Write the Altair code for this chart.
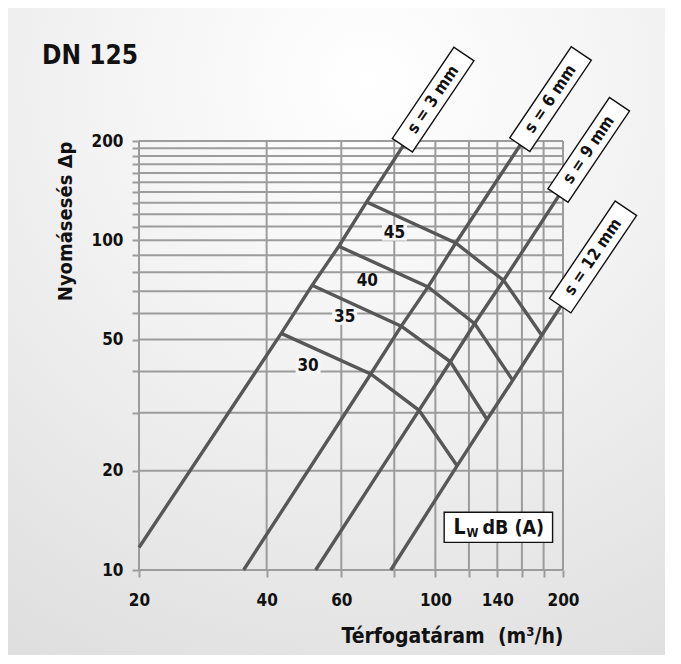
import altair as alt
import pandas as pd

# ---------------- data ----------------
x_grid = [20, 40, 60, 80, 100, 120, 140, 160, 180, 200]
y_grid = [10, 20, 30, 40, 50, 60, 70, 80, 90, 100, 110, 120, 130, 140,
          150, 160, 170, 180, 190, 200]
x_labels = [20, 40, 60, 100, 140, 200]
y_labels = [10, 20, 50, 100, 200]

levels = ["30", "35", "40", "45"]
# vertices of the noise curves (on s = 3, 6, 9, 12 mm)
q_30 = [43.3, 70.4, 91.5, 112.5]
dp_30 = [52.2, 39.3, 30.5, 20.7]
q_35 = [51.2, 83.1, 108.5, 132.4]
dp_35 = [73.0, 54.9, 42.8, 28.6]
q_40 = [59.2, 96.1, 123.8, 152.2]
dp_40 = [95.9, 72.2, 55.9, 37.6]
q_45 = [68.8, 111.7, 144.9, 178.2]
dp_45 = [130.6, 98.1, 75.6, 51.5]

level_q = [50.1, 61.1, 69.1, 80.1]
level_dp = [41.6, 58.5, 75.2, 105.3]

s_names = ["s = 3 mm", "s = 6 mm", "s = 9 mm", "s = 12 mm"]
s_q_start = [20, 35.3, 52.2, 78.5]
s_dp_start = [11.7, 10, 10, 10]
s_q_end = [98.8, 186.9, 230, 235.4]     # label box centre
s_dp_end = [267, 268, 188, 89]

lw_q = [104.9, 189.0]
lw_dp = [12.13, 14.96]

# ---------------- tables ----------------
curve_q = [q_30, q_35, q_40, q_45]
curve_dp = [dp_30, dp_35, dp_40, dp_45]

curves = pd.DataFrame([
    {"level": lv, "ord": j, "q": curve_q[i][j], "dp": curve_dp[i][j]}
    for i, lv in enumerate(levels) for j in range(4)
])

s_rows = []
for i, name in enumerate(s_names):
    pts = [(s_q_start[i], s_dp_start[i])]
    pts += [(curve_q[k][i], curve_dp[k][i]) for k in range(4)]
    pts += [(s_q_end[i], s_dp_end[i])]
    for j, (q, dp) in enumerate(pts):
        s_rows.append({"s": name, "ord": j, "q": q, "dp": dp})
s_lines = pd.DataFrame(s_rows)

s_boxes = pd.DataFrame({"s": s_names, "q": s_q_end, "dp": s_dp_end})
level_df = pd.DataFrame({"level": levels, "q": level_q, "dp": level_dp})
lw_df = pd.DataFrame({"q": [lw_q[0]], "q2": [lw_q[1]], "dp": [lw_dp[0]], "dp2": [lw_dp[1]]})
lw_center = pd.DataFrame({"q": [(lw_q[0] * lw_q[1]) ** 0.5], "dp": [(lw_dp[0] * lw_dp[1]) ** 0.5]})

# ---------------- styling ----------------
FONT = "DejaVu Sans Condensed, DejaVu Sans"
GRID = "#9c9c9c"
LINE = "#575757"
W, H = 424, 429
PAD = {"left": 131, "top": 133, "right": 102, "bottom": 85}

xscale = alt.Scale(type="log", domain=[20, 200], nice=False)
yscale = alt.Scale(type="log", domain=[10, 200], nice=False)

xax = alt.Axis(
    values=x_grid, format="d",
    labelExpr="indexof(%s, datum.value) >= 0 ? datum.label : ''" % str(x_labels),
    grid=False, domain=False, tickSize=7, tickWidth=2, tickColor=GRID,
    labelFont=FONT, labelFontSize=17, labelFontWeight="bold", labelColor="#111",
    labelPadding=15, labelOverlap=False, labelFlush=False,
    title="Térfogatáram\u00a0\u00a0(m³/h)", titleAnchor="end", titleFont=FONT,
    titleFontSize=21, titleFontWeight="bold", titleColor="#111", titlePadding=17,
    zindex=1,
)
yax = alt.Axis(
    values=y_grid, format="d",
    labelExpr="indexof(%s, datum.value) >= 0 ? datum.label : ''" % str(y_labels),
    grid=False, domain=False, tickSize=7, tickWidth=2, tickColor=GRID,
    labelFont=FONT, labelFontSize=17, labelFontWeight="bold", labelColor="#111",
    labelPadding=9, labelOverlap=False, labelFlush=False,
    title="Nyomásesés Δp", titleAnchor="end", titleFont=FONT,
    titleFontSize=20, titleFontWeight="bold", titleColor="#111", titlePadding=16,
    zindex=1,
)

one = pd.DataFrame({"a": [0]})

background = alt.Chart(one).mark_rect(
    fill=alt.RadialGradient(
        gradient="radial",
        stops=[alt.GradientStop(color="#ffffff", offset=0),
               alt.GradientStop(color="#f2f2f2", offset=0.45),
               alt.GradientStop(color="#dfdfdf", offset=1)],
        x1=0.55, y1=0.12, r1=0, x2=0.55, y2=0.12, r2=1.0,
    )
).encode(
    x=alt.value(-PAD["left"]), x2=alt.value(W + PAD["right"]),
    y=alt.value(-PAD["top"]), y2=alt.value(H + PAD["bottom"]),
)

title_text = alt.Chart(one).mark_text(
    text="DN 125", font=FONT, fontSize=26, fontWeight="bold", color="#111",
    align="left", baseline="alphabetic",
).encode(x=alt.value(-97), y=alt.value(-77))

vgrid = alt.Chart(pd.DataFrame({"q": x_grid})).mark_rule(
    color=GRID, strokeWidth=2
).encode(x=alt.X("q:Q", scale=xscale, axis=xax))

hgrid = alt.Chart(pd.DataFrame({"dp": y_grid})).mark_rule(
    color=GRID, strokeWidth=2
).encode(y=alt.Y("dp:Q", scale=yscale, axis=yax))

label_bg = alt.Chart(level_df).mark_point(
    shape="M-1,-0.62L1,-0.62L1,0.62L-1,0.62Z", size=25 * 25,
    filled=True, fill="#f5f5f5", strokeWidth=0, opacity=1,
).encode(x=alt.X("q:Q", scale=xscale, axis=xax), y=alt.Y("dp:Q", scale=yscale, axis=yax))

curve_lines = alt.Chart(curves).mark_line(
    color=LINE, strokeWidth=3.4
).encode(
    x=alt.X("q:Q", scale=xscale, axis=xax),
    y=alt.Y("dp:Q", scale=yscale, axis=yax),
    detail="level:N", order="ord:Q",
)

s_line_marks = alt.Chart(s_lines).mark_line(
    color=LINE, strokeWidth=3.4
).encode(
    x=alt.X("q:Q", scale=xscale, axis=xax),
    y=alt.Y("dp:Q", scale=yscale, axis=yax),
    detail="s:N", order="ord:Q",
)

ANGLE = 304

s_box_marks = alt.Chart(s_boxes).transform_calculate(
    bsize="pow(50 + 7.5 * length(datum.s), 2)"
).mark_point(
    shape="M-1,-0.22L1,-0.22L1,0.22L-1,0.22Z", filled=True, fill="white",
    stroke="#111111", strokeWidth=1.4, opacity=1, angle=ANGLE,
).encode(
    x=alt.X("q:Q", scale=xscale, axis=xax),
    y=alt.Y("dp:Q", scale=yscale, axis=yax),
    size=alt.Size("bsize:Q", scale=None),
)

s_text = alt.Chart(s_boxes).mark_text(
    angle=ANGLE, font=FONT, fontSize=16.5, fontWeight="bold", color="#111",
    align="center", baseline="middle",
).encode(
    x=alt.X("q:Q", scale=xscale, axis=xax),
    y=alt.Y("dp:Q", scale=yscale, axis=yax),
    text="s:N",
)

level_text = alt.Chart(level_df).mark_text(
    font=FONT, fontSize=17, fontWeight="bold", color="#111",
    align="center", baseline="middle",
).encode(
    x=alt.X("q:Q", scale=xscale, axis=xax),
    y=alt.Y("dp:Q", scale=yscale, axis=yax),
    text="level:N",
)

lw_box = alt.Chart(lw_df).mark_rect(
    fill="white", stroke="#111111", strokeWidth=1.4
).encode(
    x=alt.X("q:Q", scale=xscale, axis=xax), x2="q2:Q",
    y=alt.Y("dp:Q", scale=yscale, axis=yax), y2="dp2:Q",
)

def lw_part(txt, size, dx, dy):
    return alt.Chart(lw_center).mark_text(
        text=txt, font=FONT, fontSize=size, fontWeight="bold", color="#111",
        align="left", baseline="alphabetic", dx=dx, dy=dy,
    ).encode(
        x=alt.X("q:Q", scale=xscale, axis=xax),
        y=alt.Y("dp:Q", scale=yscale, axis=yax),
    )

lw_L = lw_part("L", 21, -45, 6.5)
lw_W = lw_part("W", 12, -32, 10)
lw_rest = lw_part("dB (A)", 19.5, -16, 6.5)

chart = alt.layer(
    background, title_text, vgrid, hgrid, label_bg, curve_lines, s_line_marks,
    s_box_marks, s_text, level_text, lw_box, lw_L, lw_W, lw_rest,
).properties(
    width=W, height=H,
    padding=PAD,
    autosize=alt.AutoSizeParams(type="none"),
    background="white",
).configure_view(stroke=None)

chart.save("out.html", embed_options={"renderer": "svg", "actions": False})
